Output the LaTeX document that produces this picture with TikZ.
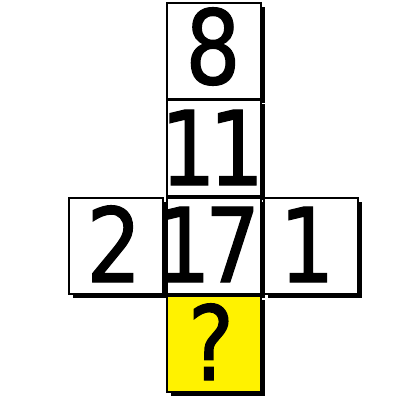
\documentclass[tikz,border=0pt]{standalone}
\usepackage{fontspec}
\setmainfont[FakeStretch=0.84,FakeBold=1.2]{DejaVu Sans}
\usetikzlibrary{shadows}
\tikzset{
  cell/.style={draw=black, line width=2pt, fill=white, minimum width=94pt, minimum height=96pt,
    inner sep=0pt, anchor=north west,
    drop shadow={shadow xshift=4pt, shadow yshift=-4pt, fill=black, opacity=1}},
  qcell/.style={cell, fill=yellow},
  digit/.style={inner sep=0pt, font=\fontsize{103}{103}\selectfont, text=black},
}
\begin{document}
\begin{tikzpicture}[x=1pt, y=-1pt]
\useasboundingbox (0,0) rectangle (420,420);
\node[cell] (top) at (166,2) {};
\node[cell] (mid) at (166,99) {};
\node[cell] (left) at (68,197) {};
\node[cell] (center) at (166,197) {};
\node[cell] (right) at (263,197) {};
\node[qcell] (bottom) at (166,295) {};
\node[digit, anchor=base] (t8) at (213,84) {8};
\node[digit, anchor=base west] (t11) at (160.4,185) {1\kern-6.6pt1};
\node[digit, anchor=base] (t2) at (114,282) {2};
\node[digit, anchor=base west] (t17) at (155.4,282) {1\kern-5.6pt7};
\node[digit, anchor=base] (t1) at (307,282) {1};
\node[digit, anchor=base] (tq) at (211,380) {?};
\end{tikzpicture}
\end{document}
